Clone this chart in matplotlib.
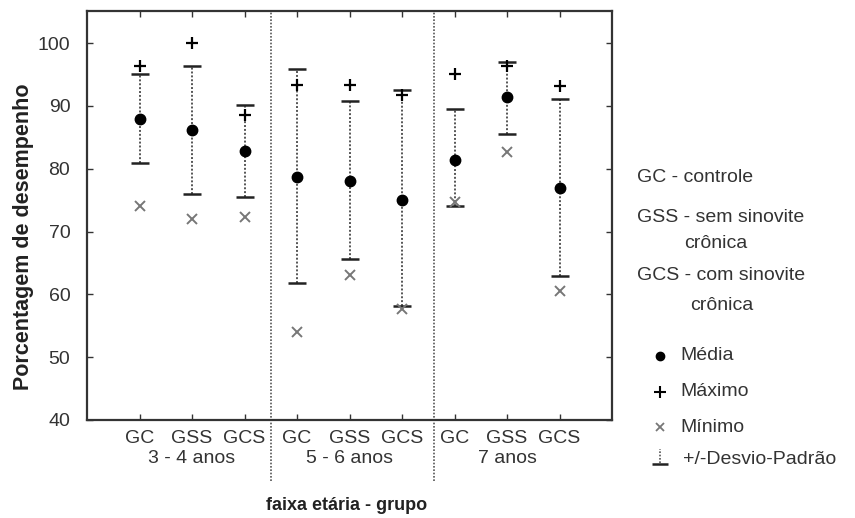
import matplotlib.pyplot as plt
import numpy as np

plt.rcParams['font.family'] = ['Liberation Sans', 'DejaVu Sans']

# ---- data ----
groups = ['GC', 'GSS', 'GCS', 'GC', 'GSS', 'GCS', 'GC', 'GSS', 'GCS']
ages = ['3 - 4 anos', '5 - 6 anos', '7 anos']
media = [87.9, 86.2, 82.8, 78.6, 78.1, 75.0, 81.4, 91.4, 77.0]
maximo = [96.3, 100.0, 88.6, 93.4, 93.4, 91.8, 95.1, 96.4, 93.1]
minimo = [74.1, 72.0, 72.3, 54.0, 63.1, 57.6, 74.7, 82.7, 60.6]
sd_high = [95.0, 96.4, 90.2, 95.8, 90.8, 92.5, 89.5, 97.0, 91.1]
sd_low = [80.9, 75.9, 75.5, 61.8, 65.6, 58.2, 74.0, 85.5, 62.9]

x = np.arange(len(groups))
dividers = [2.5, 5.6]
age_centers = [1, 4, 7]

grey = '#555555'
txt = '#333333'
fs = 14

fig = plt.figure(figsize=(8.55, 5.18), dpi=100)
ax = fig.add_axes([87 / 855, 1 - 420 / 518, (612 - 87) / 855, (420 - 11) / 518])

# desvio padrao
ax.vlines(x, sd_low, sd_high, colors=grey, linestyles=(0, (1, 1)), linewidth=1.4)
ax.plot(x, sd_high, '_', color='#222222', ms=13, mew=1.8, ls='none')
ax.plot(x, sd_low, '_', color='#222222', ms=13, mew=1.8, ls='none')

ax.plot(x, media, 'o', color='black', ms=7.5, ls='none')
ax.plot(x, maximo, '+', color='black', ms=8, mew=1.6, ls='none')
ax.plot(x, minimo, 'x', color='#777777', ms=6.5, mew=1.4, ls='none')

for d in dividers:
    ax.plot([d, d], [-0.15, 1], transform=ax.get_xaxis_transform(), color=grey,
            ls=(0, (1, 1)), lw=1.2, clip_on=False)

ax.set_xlim(-1, 9)
ax.set_ylim(40, 105.1)
ax.set_xticks(x)
ax.set_xticklabels(groups, fontsize=fs, color=txt)
ax.set_yticks(range(40, 101, 10))
ax.set_yticklabels([str(v) for v in range(40, 101, 10)], fontsize=fs, color=txt)
ax.tick_params(direction='in', top=True, right=True, length=4, width=1,
               color='#333333')
ax.tick_params(axis='y', pad=12)
ax.tick_params(axis='x', pad=7)
for s in ax.spines.values():
    s.set_linewidth(1.6)
    s.set_color('#333333')

for c, a in zip(age_centers, ages):
    ax.text(c, -0.095, a, transform=ax.get_xaxis_transform(), ha='center', va='center',
            fontsize=fs, color=txt)

ax.set_ylabel('Porcentagem de desempenho', fontsize=15.5, fontweight='bold',
              color='#222222')
ax.yaxis.set_label_coords(-0.101, 0.447)
fig.text(347 / 855, 1 - 505 / 518, 'faixa etária - grupo', ha='center', va='center',
         fontsize=13, fontweight='bold', color='#222222')

# legend on the right
fig.text(637 / 855, 1 - 178 / 518, 'GC - controle', fontsize=fs, color=txt, va='center')
fig.text(637 / 855, 1 - 218 / 518, 'GSS - sem sinovite', fontsize=fs, color=txt, va='center')
fig.text(716 / 855, 1 - 243 / 518, 'crônica', fontsize=fs, color=txt, va='center', ha='center')
fig.text(637 / 855, 1 - 275 / 518, 'GCS - com sinovite', fontsize=fs, color=txt, va='center')
fig.text(722 / 855, 1 - 306 / 518, 'crônica', fontsize=fs, color=txt, va='center', ha='center')

leg_items = ['Média', 'Máximo', 'Mínimo', '+/-Desvio-Padrão']
leg_y = [356, 392, 427, 460]
lx = 660 / 855
fig.lines.append(plt.Line2D([lx], [1 - leg_y[0] / 518], marker='o', color='black', ms=6,
                            transform=fig.transFigure))
fig.lines.append(plt.Line2D([lx], [1 - leg_y[1] / 518], marker='+', color='black', ms=8,
                            mew=1.5, transform=fig.transFigure))
fig.lines.append(plt.Line2D([lx], [1 - leg_y[2] / 518], marker='x', color='#777777', ms=5.5,
                            mew=1.3, transform=fig.transFigure))
fig.lines.append(plt.Line2D([lx, lx], [1 - 463 / 518, 1 - 449 / 518], color=grey, lw=1.2,
                            ls=(0, (1, 1)), transform=fig.transFigure))
fig.lines.append(plt.Line2D([lx], [1 - 464 / 518], marker='_', color='#222222', ms=12,
                            mew=1.8, transform=fig.transFigure))
for lab, yy in zip(leg_items, leg_y):
    xx = 683 / 855 if lab.startswith('+') else 680 / 855
    fig.text(xx, 1 - yy / 518, lab, fontsize=fs, color=txt, va='center')

plt.savefig('out.png', dpi=100)
